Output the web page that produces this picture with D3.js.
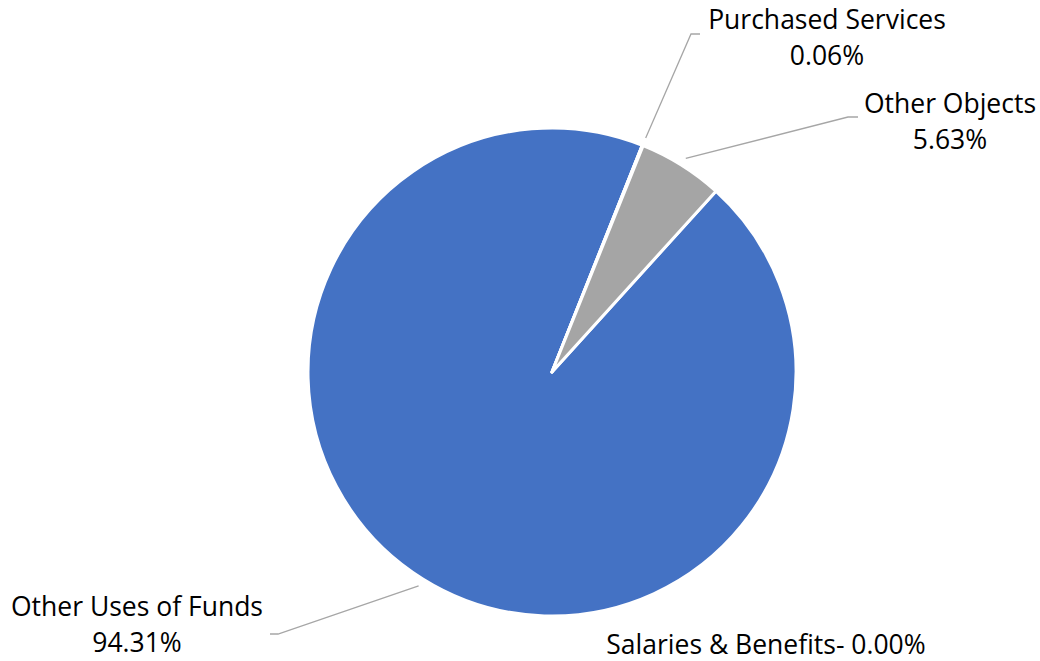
<!DOCTYPE html>
<html>
<head>
<meta charset="utf-8">
<script src="https://cdn.jsdelivr.net/npm/d3@7"></script>
<style>
  html, body { margin: 0; padding: 0; background: #fff; }
  svg { display: block; }
  text { font-family: "Open Sans", "Noto Sans", sans-serif; font-size: 26.5px; fill: #000; }
</style>
</head>
<body>
<svg id="chart" width="1040" height="661"></svg>
<script>
// Expense categories and their share of the total (percent)
const categories = ["Other Uses of Funds", "Salaries & Benefits", "Purchased Services", "Other Objects"];
const shares = [94.31, 0.00, 0.06, 5.63];
const shareLabels = ["94.31%", "0.00%", "0.06%", "5.63%"];
const colors = ["#4472C4", "#ED7D31", "#FFC000", "#A5A5A5"];

const W = 1040, H = 661;
const cx = 552, cy = 372, radius = 244;
const rotation = 42.2 * Math.PI / 180;

const svg = d3.select("#chart");
const g = svg.append("g").attr("transform", `translate(${cx},${cy})`);

const pie = d3.pie().sort(null).value(d => d)
  .startAngle(rotation).endAngle(rotation + 2 * Math.PI);
const arcs = pie(shares);
const arc = d3.arc().innerRadius(0).outerRadius(radius);

g.selectAll("path.slice")
  .data(arcs)
  .join("path")
  .attr("class", "slice")
  .attr("d", arc)
  .attr("fill", (d, i) => colors[i])
  .attr("stroke", "#fff")
  .attr("stroke-width", 3)
  .attr("stroke-linejoin", "round");

// Label placement: text anchor point, line baselines, and leader elbow
const labelLayout = [
  { x: 137, lines: [616, 652], single: false, elbow: [278, 634], end: [270, 634] },
  { x: 766, lines: [654], single: true, elbow: null },
  { x: 827, lines: [29, 65], single: false, elbow: [691, 34], end: [700, 34] },
  { x: 950, lines: [113, 149], single: false, elbow: [848, 117], end: [858, 117] }
];

const leaderR = radius + 8;
arcs.forEach((a, i) => {
  const L = labelLayout[i];
  const t = svg.append("text").attr("text-anchor", "middle");
  if (L.single) {
    t.append("tspan").attr("x", L.x).attr("y", L.lines[0])
      .text(categories[i] + "- " + shareLabels[i]);
  } else {
    t.append("tspan").attr("x", L.x).attr("y", L.lines[0]).text(categories[i]);
    t.append("tspan").attr("x", L.x).attr("y", L.lines[1]).text(shareLabels[i]);
  }
  if (L.elbow) {
    const mid = (a.startAngle + a.endAngle) / 2;
    const sx = cx + Math.sin(mid) * leaderR;
    const sy = cy - Math.cos(mid) * leaderR;
    svg.append("polyline")
      .attr("points", [[sx, sy], L.elbow, L.end].map(p => p.join(",")).join(" "))
      .attr("fill", "none")
      .attr("stroke", "#A6A6A6")
      .attr("stroke-width", 1.3);
  }
});
</script>
</body>
</html>
